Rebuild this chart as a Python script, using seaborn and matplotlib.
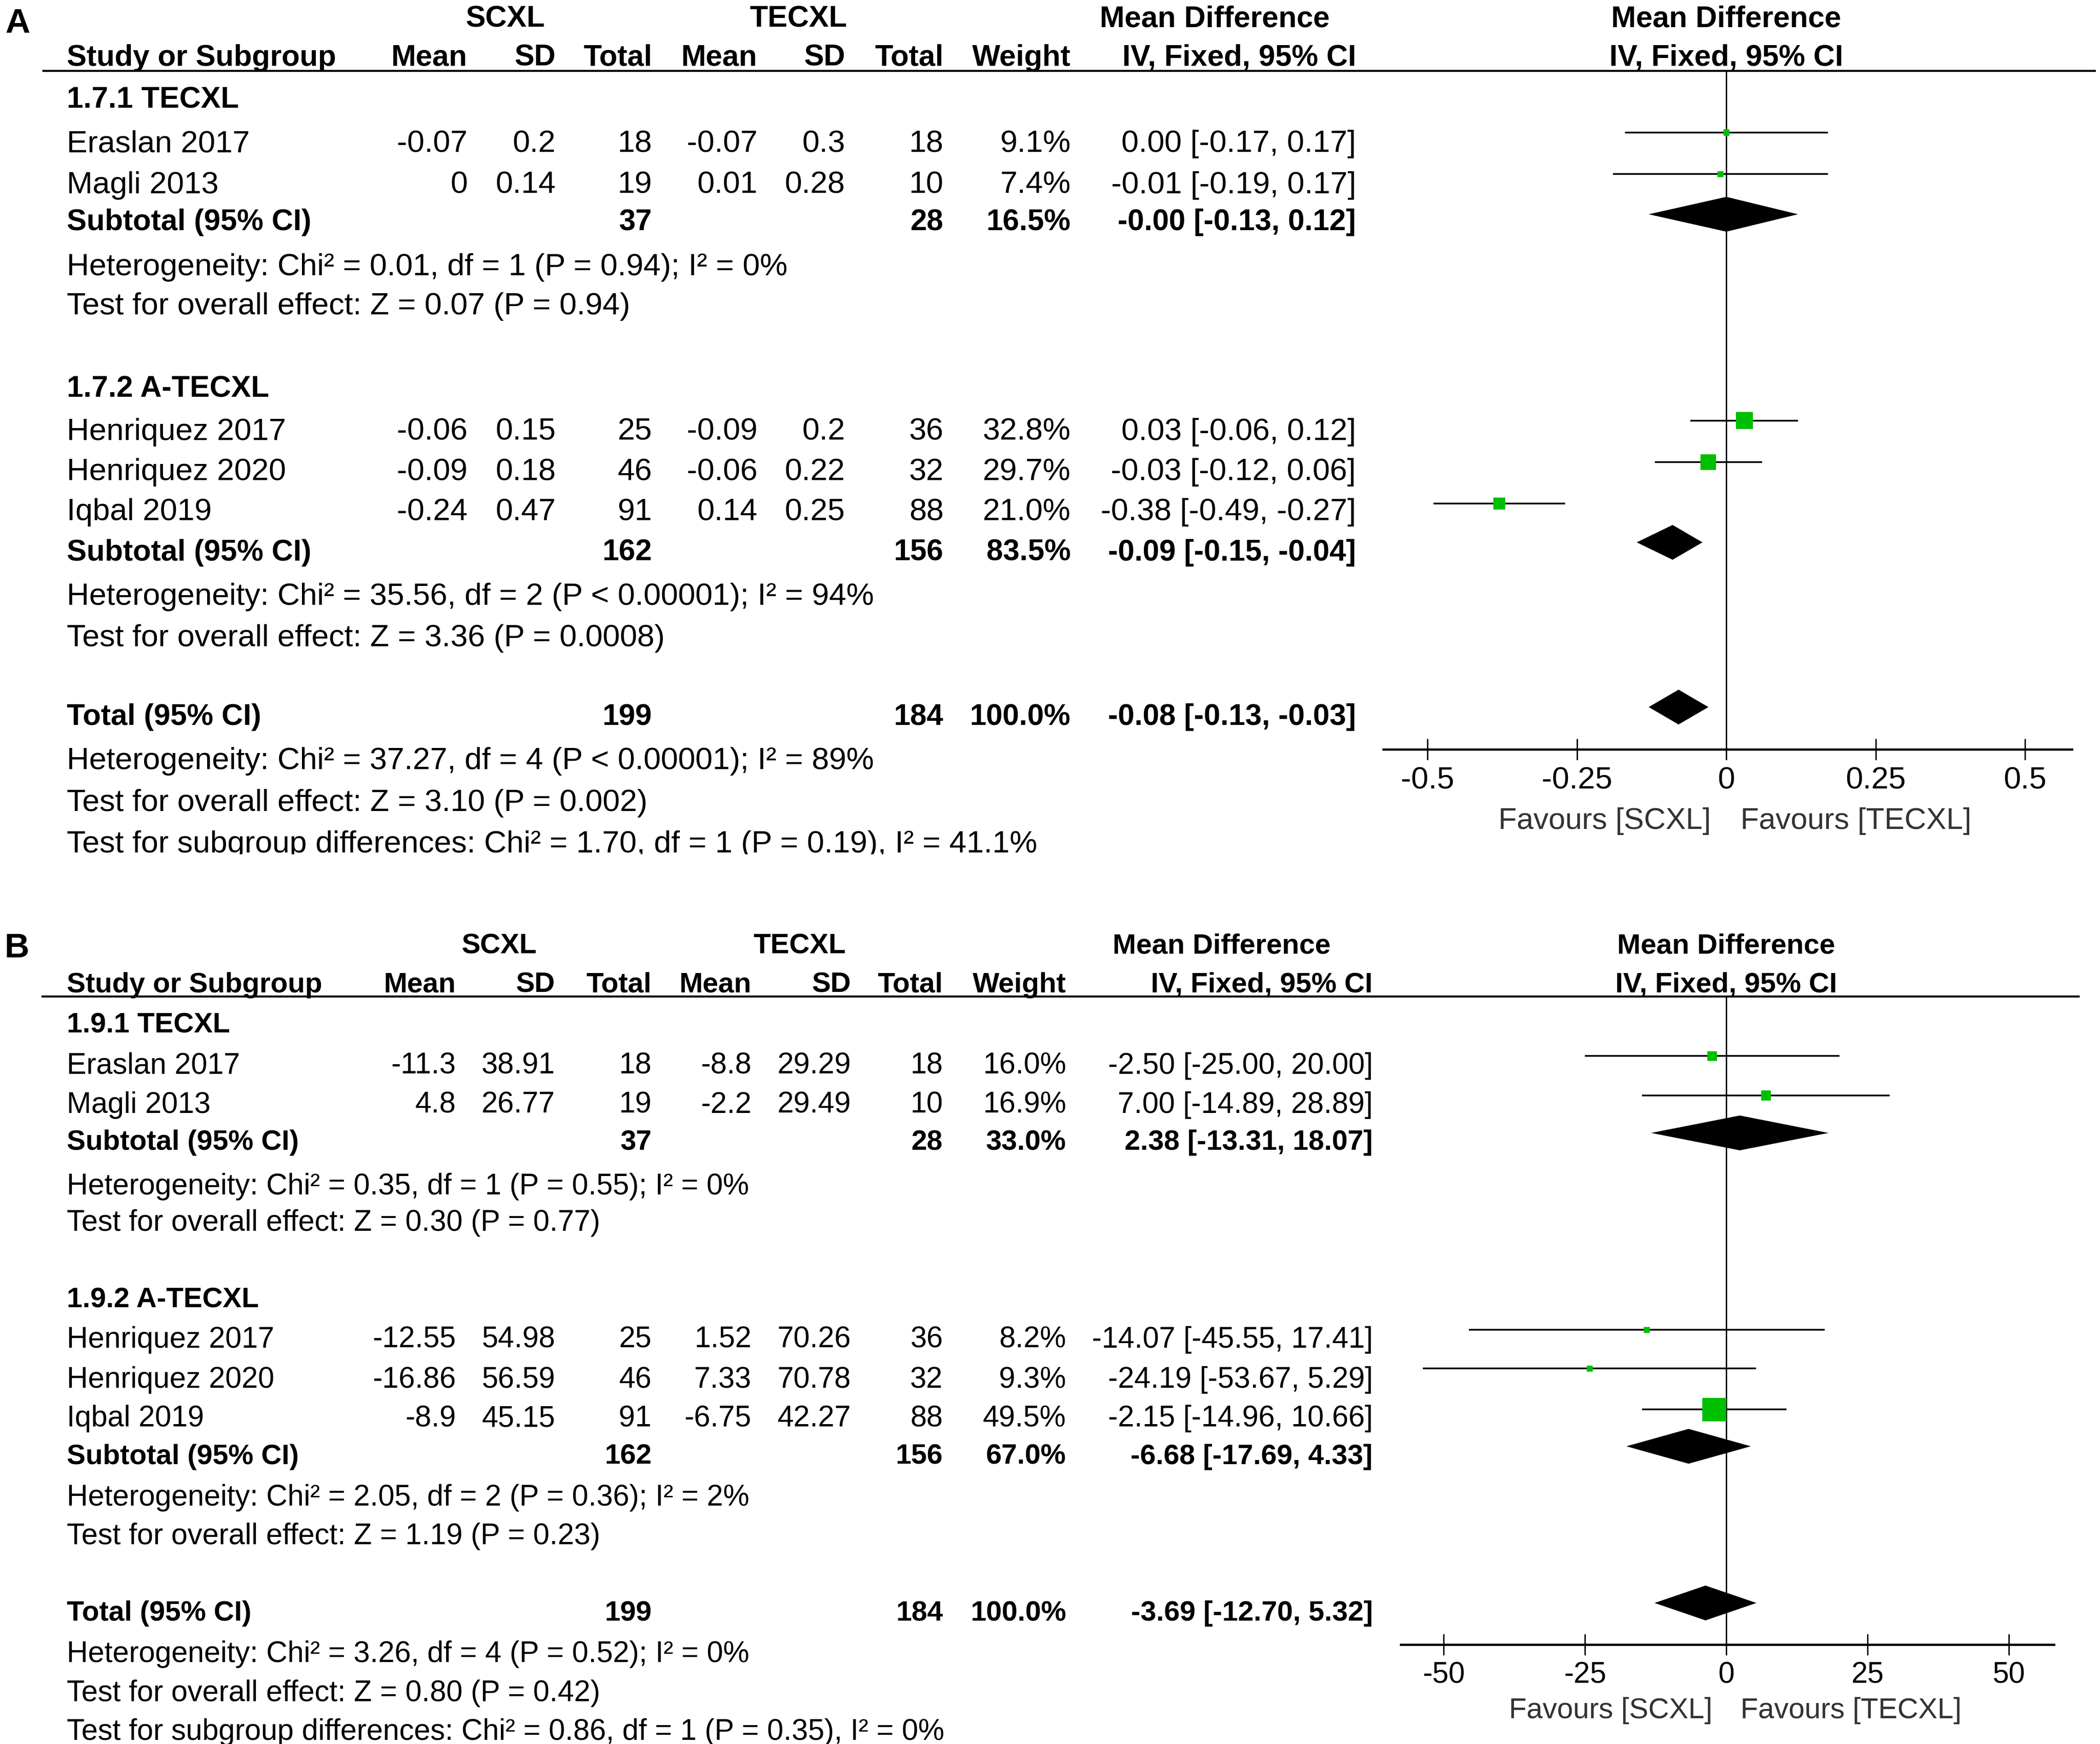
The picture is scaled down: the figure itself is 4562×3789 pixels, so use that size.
import matplotlib
matplotlib.use("Agg")
import matplotlib.pyplot as plt
from matplotlib.patches import Rectangle
import pandas as pd
import seaborn as sns

# ---------------- data: panel A ----------------
a_groups = ["1.7.1 TECXL", "1.7.2 A-TECXL"]
a_studies = ["Eraslan 2017", "Magli 2013", "Henriquez 2017", "Henriquez 2020", "Iqbal 2019"]
a_scxl_mean = [-0.07, 0, -0.06, -0.09, -0.24]
a_scxl_sd = [0.2, 0.14, 0.15, 0.18, 0.47]
a_scxl_n = [18, 19, 25, 46, 91]
a_tecxl_mean = [-0.07, 0.01, -0.09, -0.06, 0.14]
a_tecxl_sd = [0.3, 0.28, 0.2, 0.22, 0.25]
a_tecxl_n = [18, 10, 36, 32, 88]
a_weight = [9.1, 7.4, 32.8, 29.7, 21.0]
a_md = [0.00, -0.01, 0.03, -0.03, -0.38]
a_lo = [-0.17, -0.19, -0.06, -0.12, -0.49]
a_hi = [0.17, 0.17, 0.12, 0.06, -0.27]
# pooled rows: subtotal 1, subtotal 2, total
a_pool_n1 = [37, 162, 199]
a_pool_n2 = [28, 156, 184]
a_pool_w = [16.5, 83.5, 100.0]
a_pool_md = [-0.0, -0.09, -0.08]
a_pool_lo = [-0.13, -0.15, -0.13]
a_pool_hi = [0.12, -0.04, -0.03]
a_het = ["Heterogeneity: Chi² = 0.01, df = 1 (P = 0.94); I² = 0%",
         "Heterogeneity: Chi² = 35.56, df = 2 (P < 0.00001); I² = 94%",
         "Heterogeneity: Chi² = 37.27, df = 4 (P < 0.00001); I² = 89%"]
a_effect = ["Test for overall effect: Z = 0.07 (P = 0.94)",
            "Test for overall effect: Z = 3.36 (P = 0.0008)",
            "Test for overall effect: Z = 3.10 (P = 0.002)"]
a_subgroup = "Test for subgroup differences: Chi² = 1.70, df = 1 (P = 0.19), I² = 41.1%"
a_ticks = [-0.5, -0.25, 0, 0.25, 0.5]
a_ticklabels = ["-0.5", "-0.25", "0", "0.25", "0.5"]

# ---------------- data: panel B ----------------
b_groups = ["1.9.1 TECXL", "1.9.2 A-TECXL"]
b_studies = ["Eraslan 2017", "Magli 2013", "Henriquez 2017", "Henriquez 2020", "Iqbal 2019"]
b_scxl_mean = [-11.3, 4.8, -12.55, -16.86, -8.9]
b_scxl_sd = [38.91, 26.77, 54.98, 56.59, 45.15]
b_scxl_n = [18, 19, 25, 46, 91]
b_tecxl_mean = [-8.8, -2.2, 1.52, 7.33, -6.75]
b_tecxl_sd = [29.29, 29.49, 70.26, 70.78, 42.27]
b_tecxl_n = [18, 10, 36, 32, 88]
b_weight = [16.0, 16.9, 8.2, 9.3, 49.5]
b_md = [-2.50, 7.00, -14.07, -24.19, -2.15]
b_lo = [-25.00, -14.89, -45.55, -53.67, -14.96]
b_hi = [20.00, 28.89, 17.41, 5.29, 10.66]
b_pool_n1 = [37, 162, 199]
b_pool_n2 = [28, 156, 184]
b_pool_w = [33.0, 67.0, 100.0]
b_pool_md = [2.38, -6.68, -3.69]
b_pool_lo = [-13.31, -17.69, -12.70]
b_pool_hi = [18.07, 4.33, 5.32]
b_het = ["Heterogeneity: Chi² = 0.35, df = 1 (P = 0.55); I² = 0%",
         "Heterogeneity: Chi² = 2.05, df = 2 (P = 0.36); I² = 2%",
         "Heterogeneity: Chi² = 3.26, df = 4 (P = 0.52); I² = 0%"]
b_effect = ["Test for overall effect: Z = 0.30 (P = 0.77)",
            "Test for overall effect: Z = 1.19 (P = 0.23)",
            "Test for overall effect: Z = 0.80 (P = 0.42)"]
b_subgroup = "Test for subgroup differences: Chi² = 0.86, df = 1 (P = 0.35), I² = 0%"
b_ticks = [-50, -25, 0, 25, 50]
b_ticklabels = ["-50", "-25", "0", "25", "50"]

# ---------------- layout (reference pixel units) ----------------
W = 1568
DPI = 291
PX = 4562 / W
H = 3789 / PX
PT = PX * 72 / DPI

layout_a = dict(
    letter="A", letter_xy=(4, 24.5), fs=16.7, fs_bold=16.0, fs_fav=16.2,
    head_y=(20, 49), line_y=53, line_x=(31.6, 1565),
    cols=dict(label=50, m1=349, s1=415, n1=487, m2=565.5, s2=631, n2=704.5,
              w=799.5, ci=1012.5, scxl=377, tecxl=596, md=907, plot=1289),
    group_y=[80.6, 296.5], study_y=[113.5, 144.3, 328.5, 358.5, 388.5],
    pool_y=[172, 418.5, 541.5], het_y=[205.7, 451.5, 574.5],
    effect_y=[234.8, 482.5, 605.5], sub_y=636.5, clip_y=638,
    study_py=[99, 130, 314, 345, 376], pool_py=[160, 405, 528],
    axis_px=(1033, 1547), axis_y=559.6, zero_px=1289, unit_px=446,
    tick_pad=3.6, fav_y=619, fav_x=(1277.5, 1299.5),
)
layout_b = dict(
    letter="B", letter_xy=(3.5, 715), fs=15.8, fs_bold=15.2, fs_fav=15.5,
    head_y=(712, 741), line_y=744.3, line_x=(31, 1553),
    cols=dict(label=50, m1=340.5, s1=414.5, n1=486.5, m2=561, s2=635.5, n2=704,
              w=796, ci=1025, scxl=372.5, tecxl=597, md=912, plot=1289),
    group_y=[771, 976.3], study_y=[801.8, 831, 1006.3, 1036.3, 1065.3],
    pool_y=[858.7, 1093.3, 1210.3], het_y=[892, 1124.3, 1241.3],
    effect_y=[919, 1153.3, 1270.3], sub_y=1299.3, clip_y=H,
    study_py=[788.6, 818, 993, 1022, 1052.6], pool_py=[846, 1080, 1197],
    axis_px=(1046, 1533.6), axis_y=1228, zero_px=1289, unit_px=4.22,
    tick_pad=3.3, fav_y=1283, fav_x=(1278.5, 1299.5),
)

GREEN = "#00bf00"
DIAMOND_H = 13


def fmt(v):
    return f"{v:g}"


def fmt_ci(md, lo, hi):
    return f"{md:.2f} [{lo:.2f}, {hi:.2f}]"


def marker_area(w):
    side = max(4.5, 0.71 * w ** 0.826) * PT
    return side ** 2


sns.set_style("white")
plt.rcParams["font.family"] = ["Liberation Sans", "DejaVu Sans"]

fig = plt.figure(figsize=(4562 / DPI, 3789 / DPI), dpi=DPI)
tax = fig.add_axes([0, 0, 1, 1])
tax.set_xlim(0, W)
tax.set_ylim(H, 0)
tax.axis("off")


def draw_panel(d, lay):
    fs = lay["fs"]
    c = lay["cols"]
    reg = dict(fontsize=fs, color="black")
    bold = dict(fontsize=lay["fs_bold"], color="black", fontweight="bold")

    tax.text(*lay["letter_xy"], lay["letter"], fontsize=18.5, fontweight="bold", color="black")

    # column headers
    y1, y2 = lay["head_y"]
    tax.text(c["scxl"], y1, "SCXL", ha="center", **bold)
    tax.text(c["tecxl"], y1, "TECXL", ha="center", **bold)
    tax.text(c["md"], y1, "Mean Difference", ha="center", **bold)
    tax.text(c["plot"], y1, "Mean Difference", ha="center", **bold)
    tax.text(c["label"], y2, "Study or Subgroup", **bold)
    for key, name in [("m1", "Mean"), ("s1", "SD"), ("n1", "Total"), ("m2", "Mean"),
                      ("s2", "SD"), ("n2", "Total"), ("w", "Weight"), ("ci", "IV, Fixed, 95% CI")]:
        tax.text(c[key], y2, name, ha="right", **bold)
    tax.text(c["plot"], y2, "IV, Fixed, 95% CI", ha="center", **bold)
    tax.plot(lay["line_x"], [lay["line_y"]] * 2, color="black", lw=1.1, solid_capstyle="butt")

    # study rows
    for i, name in enumerate(d["studies"]):
        y = lay["study_y"][i]
        tax.text(c["label"], y, name, **reg)
        cells = [("m1", fmt(d["m1"][i])), ("s1", fmt(d["s1"][i])), ("n1", str(d["n1"][i])),
                 ("m2", fmt(d["m2"][i])), ("s2", fmt(d["s2"][i])), ("n2", str(d["n2"][i])),
                 ("w", f"{d['weight'][i]:.1f}%"), ("ci", fmt_ci(d["md"][i], d["lo"][i], d["hi"][i]))]
        for key, s in cells:
            tax.text(c[key], y, s, ha="right", **reg)

    # subgroup headings
    for g, y in zip(d["groups"], lay["group_y"]):
        tax.text(c["label"], y, g, **bold)

    # pooled rows
    pool_names = ["Subtotal (95% CI)", "Subtotal (95% CI)", "Total (95% CI)"]
    for k in range(3):
        y = lay["pool_y"][k]
        tax.text(c["label"], y, pool_names[k], **bold)
        tax.text(c["n1"], y, str(d["pn1"][k]), ha="right", **bold)
        tax.text(c["n2"], y, str(d["pn2"][k]), ha="right", **bold)
        tax.text(c["w"], y, f"{d['pw'][k]:.1f}%", ha="right", **bold)
        tax.text(c["ci"], y, fmt_ci(d["pmd"][k], d["plo"][k], d["phi"][k]), ha="right", **bold)
        tax.text(c["label"], lay["het_y"][k], d["het"][k], **reg)
        tax.text(c["label"], lay["effect_y"][k], d["effect"][k], **reg)

    t = tax.text(c["label"], lay["sub_y"], d["subgroup"], clip_on=True, **reg)
    t.set_clip_path(Rectangle((0, lay["clip_y"]), W, -lay["clip_y"], transform=tax.transData))

    # forest plot
    x0, x1 = lay["axis_px"]
    top, bot = lay["line_y"], lay["axis_y"]
    ax = fig.add_axes([x0 / W, 1 - bot / H, (x1 - x0) / W, (bot - top) / H])
    ax.patch.set_visible(False)
    z, u = lay["zero_px"], lay["unit_px"]

    ax.axvline(0, color="black", lw=0.75, zorder=1)
    ax.hlines(lay["study_py"], d["lo"], d["hi"], color="black", lw=0.9, zorder=2)
    df = pd.DataFrame({"md": d["md"], "y": lay["study_py"], "w": d["weight"]})
    sizes = {w: marker_area(w) for w in d["weight"]}
    sns.scatterplot(data=df, x="md", y="y", size="w", sizes=sizes, marker="s",
                    color=GREEN, edgecolor="none", linewidth=0, legend=False,
                    ax=ax, zorder=3)
    for md, lo, hi, yy in zip(d["pmd"], d["plo"], d["phi"], lay["pool_py"]):
        ax.fill([lo, md, hi, md], [yy, yy - DIAMOND_H, yy, yy + DIAMOND_H],
                color="black", lw=0, zorder=3)

    ax.set_xlim((x0 - z) / u, (x1 - z) / u)
    ax.set_ylim(bot, top)
    ax.set(xlabel="", ylabel="")
    ax.set_yticks([])
    ax.set_xticks(d["ticks"], d["ticklabels"])
    for s in ["top", "left", "right"]:
        ax.spines[s].set_visible(False)
    ax.spines["bottom"].set_linewidth(1.2)
    ax.spines["bottom"].set_color("black")
    ax.tick_params(axis="x", bottom=True, direction="inout", length=11.5, width=0.75,
                   color="black", labelcolor="black", labelsize=fs, pad=lay["tick_pad"])

    fav = dict(fontsize=lay["fs_fav"], color="#333333")
    tax.text(lay["fav_x"][0], lay["fav_y"], "Favours [SCXL]", ha="right", **fav)
    tax.text(lay["fav_x"][1], lay["fav_y"], "Favours [TECXL]", ha="left", **fav)


panel_a = dict(groups=a_groups, studies=a_studies, m1=a_scxl_mean, s1=a_scxl_sd, n1=a_scxl_n,
               m2=a_tecxl_mean, s2=a_tecxl_sd, n2=a_tecxl_n, weight=a_weight,
               md=a_md, lo=a_lo, hi=a_hi, pn1=a_pool_n1, pn2=a_pool_n2, pw=a_pool_w,
               pmd=a_pool_md, plo=a_pool_lo, phi=a_pool_hi, het=a_het, effect=a_effect,
               subgroup=a_subgroup, ticks=a_ticks, ticklabels=a_ticklabels)
panel_b = dict(groups=b_groups, studies=b_studies, m1=b_scxl_mean, s1=b_scxl_sd, n1=b_scxl_n,
               m2=b_tecxl_mean, s2=b_tecxl_sd, n2=b_tecxl_n, weight=b_weight,
               md=b_md, lo=b_lo, hi=b_hi, pn1=b_pool_n1, pn2=b_pool_n2, pw=b_pool_w,
               pmd=b_pool_md, plo=b_pool_lo, phi=b_pool_hi, het=b_het, effect=b_effect,
               subgroup=b_subgroup, ticks=b_ticks, ticklabels=b_ticklabels)

draw_panel(panel_a, layout_a)
draw_panel(panel_b, layout_b)

fig.savefig("out.png", dpi=DPI, facecolor="white")
plt.close(fig)
